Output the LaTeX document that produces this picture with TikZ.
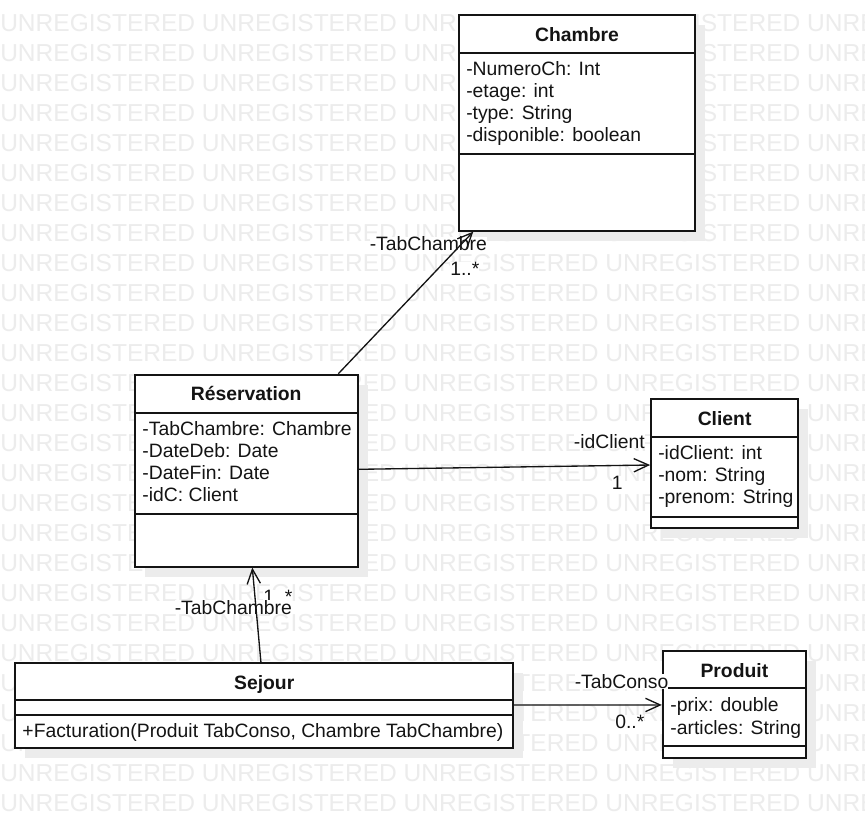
\documentclass[tikz,border=0pt]{standalone}
\usepackage{fontspec}
\setmainfont{Liberation Sans}
\usetikzlibrary{arrows.meta,calc,fit}
\definecolor{wmgray}{RGB}{236,236,236}
\definecolor{shgray}{RGB}{236,236,236}
\definecolor{ink}{RGB}{20,20,20}
\newcommand\umlbox[5]{%
  \fill[shgray] (#2+10,#3+10) rectangle (#4+10,#5+10);
  \node[cls, fit={(#2,#3) (#4,#5)}] (#1) {};
}
\begin{document}
\begin{tikzpicture}[x=0.75pt,y=-0.75pt,
  every node/.style={font=\fontsize{14.5}{16.5}\selectfont, text=ink, inner sep=0pt},
  wm/.style={font=\fontsize{18.4}{20}\selectfont, text=wmgray, anchor=base west, inner sep=0pt},
  cls/.style={draw=ink, fill=white, line width=1.4pt, inner sep=0pt},
  sepline/.style={draw=ink, line width=1.3pt},
  title/.style={font=\fontsize{14.5}{16.5}\selectfont\bfseries, anchor=base},
  attr/.style={anchor=base west},
  elabel/.style={fill=white, inner sep=0pt},
  assoc/.style={draw=ink, line width=1pt, -{Straight Barb[length=11pt,width=10pt,line width=1pt]}}]
\useasboundingbox (0,0) rectangle (865,819);
\fill[white] (0,0) rectangle (865,819);
% watermark
\begin{scope}
\clip (0,0) rectangle (865,819);
\foreach \k in {0,...,26} {
  \node[wm] (wm\k) at (0,31+30*\k) {UNREGISTERED UNREGISTERED UNREGISTERED UNREGISTERED UNREGISTERED};
}
\end{scope}
% classes
\umlbox{chambre}{459}{15}{695}{230.7}
\draw[sepline] (459,52.7) -- (695,52.7);
\draw[sepline] (459,154) -- (695,154);
\node[title] (chT) at (577,41) {Chambre};
\node[attr] (ch1) at (466,75.7) {-NumeroCh: Int};
\node[attr] (ch2) at (466,97.7) {-etage: int};
\node[attr] (ch3) at (466,119.7) {-type: String};
\node[attr] (ch4) at (466,141.7) {-disponible: boolean};

\umlbox{res}{134.7}{374.7}{357.7}{566.7}
\draw[sepline] (134.7,412.7) -- (357.7,412.7);
\draw[sepline] (134.7,514.3) -- (357.7,514.3);
\node[title] (resT) at (246.2,400.7) {Réservation};
\node[attr] (r1) at (142.2,435.7) {-TabChambre: Chambre};
\node[attr] (r2) at (142.2,457.7) {-DateDeb: Date};
\node[attr] (r3) at (142.2,479.7) {-DateFin: Date};
\node[attr] (r4) at (142.2,501.7) {-idC: Client};

\umlbox{client}{651}{399.3}{798.3}{528.3}
\draw[sepline] (651,436.7) -- (798.3,436.7);
\draw[sepline] (651,516.7) -- (798.3,516.7);
\node[title] (clT) at (724.6,425.7) {Client};
\node[attr] (cl1) at (658,459.7) {-idClient: int};
\node[attr] (cl2) at (658,481.7) {-nom: String};
\node[attr] (cl3) at (658,503.7) {-prenom: String};

\umlbox{sejour}{15}{663.3}{513.3}{748.3}
\draw[sepline] (15,700) -- (513.3,700);
\draw[sepline] (15,715) -- (513.3,715);
\node[title] (seT) at (264.2,689.3) {Sejour};
\node[attr] (se1) at (22.2,737) {+Facturation(Produit TabConso, Chambre TabChambre)};

\umlbox{produit}{662.7}{651}{806}{758.3}
\draw[sepline] (662.7,688.3) -- (806,688.3);
\draw[sepline] (662.7,746) -- (806,746);
\node[title] (prT) at (734.4,677.3) {Produit};
\node[attr] (p1) at (670.2,711.3) {-prix: double};
\node[attr] (p2) at (670.2,734.3) {-articles: String};

% association labels
\node[elabel, anchor=base west] (m1) at (450,275) {1..*};
\node[elabel, anchor=base west] (l1) at (369.5,250.7) {-TabChambre};
\node[elabel, anchor=base west] (m2) at (611.5,489.3) {1};
\node[elabel, anchor=base east] (l2) at (645,448.3) {-idClient};
\node[elabel, anchor=base west] (m3) at (263,603.3) {1..*};
\node[elabel, anchor=base west] (l3) at (174.5,614.3) {-TabChambre};
\node[elabel, anchor=base west] (m4) at (615,728.3) {0..*};
\node[elabel, anchor=base west] (l4) at (574.5,688.3) {-TabConso};

% associations
\draw[assoc] ($(res.north)+(92.1,0)$) -- ($(chambre.south)+(-103.7,0)$);
\draw[assoc] ($(res.east)+(0,-1.4)$) -- ($(client.west)+(0,1.2)$);
\draw[assoc] ($(sejour.north)+(-3.2,0)$) -- ($(res.south)+(6.1,0)$);
\draw[assoc] ($(sejour.east)+(0,-0.8)$) -- ($(produit.west)+(0,0.3)$);
\end{tikzpicture}
\end{document}
